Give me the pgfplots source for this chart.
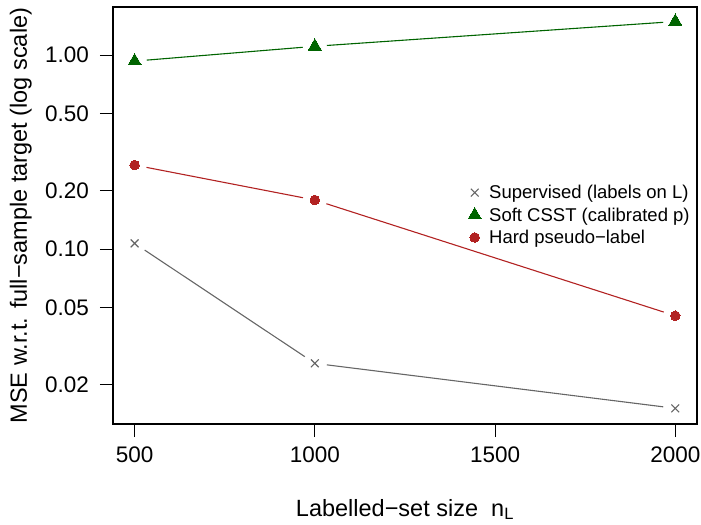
\documentclass[border=0pt]{standalone}
\usepackage{pgfplots}
\pgfplotsset{compat=1.18}
\usepackage{pgfplotstable}
\usepackage{fontspec}
\setmainfont{Liberation Sans}

\definecolor{supgray}{HTML}{666666}
\definecolor{softgreen}{HTML}{006400}
\definecolor{hardred}{HTML}{B22222}

\pgfplotstableread{
n    mse
500  0.107
1000 0.02575
2000 0.0151
}\supervised
\pgfplotstableread{
n    mse
500  0.931
1000 1.11
2000 1.49
}\softcsst
\pgfplotstableread{
n    mse
500  0.271
1000 0.179
2000 0.0453
}\hardpl

\begin{document}
\begin{tikzpicture}
\begin{axis}[
  scale only axis,
  width=584bp, height=417bp,
  ymode=log,
  xmin=440, xmax=2060,
  ymin=0.01253, ymax=1.768,
  xtick={500,1000,1500,2000},
  xticklabels={500,1000,1500,2000},
  ytick={0.02,0.05,0.1,0.2,0.5,1},
  yticklabels={0.02,0.05,0.10,0.20,0.50,1.00},
  tick pos=left,
  tick align=outside,
  major tick length=13bp,
  minor tick num=0,
  axis line style={line width=1.2bp},
  every tick/.style={black, line width=1.1bp},
  xticklabel style={font=\fontsize{22.5bp}{27bp}\selectfont, inner sep=0pt, yshift=-10bp},
  yticklabel style={font=\fontsize{22.5bp}{27bp}\selectfont, inner sep=0pt, xshift=-11bp},
  every axis label/.append style={font=\fontsize{23.5bp}{28bp}\selectfont},
  xlabel={Labelled−set size\ \ n\textsubscript{L}},
  ylabel={MSE w.r.t. full−sample target (log scale)},
  xlabel style={at={(axis description cs:0.5,-0.205)}, anchor=center},
  ylabel style={at={(axis description cs:-0.158,0.5)}, anchor=center},
  clip=false,
  legend cell align=left,
  legend style={draw=none, fill=none, font=\fontsize{18.5bp}{22bp}\selectfont,
    at={(axis description cs:0.608,0.578)}, anchor=north west,
    row sep=3.5bp, inner sep=0pt,
    /tikz/every odd column/.append style={column sep=6bp}},
]
% invisible frame to fix the picture size
\path (axis description cs:-0.1935,-0.24) rectangle (axis description cs:1.007,1.017);

% connecting lines, with gaps around the points (R type="b")
\addplot[supgray, line width=1.1bp, forget plot] table[x=n,y=mse]{\supervised};
\addplot[softgreen, line width=1.1bp, forget plot] table[x=n,y=mse]{\softcsst};
\addplot[hardred, line width=1.1bp, forget plot] table[x=n,y=mse]{\hardpl};
\addplot[only marks, mark=*, mark size=12bp, mark options={draw=white, fill=white}, forget plot] table[x=n,y=mse]{\supervised};
\addplot[only marks, mark=*, mark size=12bp, mark options={draw=white, fill=white}, forget plot] table[x=n,y=mse]{\softcsst};
\addplot[only marks, mark=*, mark size=12bp, mark options={draw=white, fill=white}, forget plot] table[x=n,y=mse]{\hardpl};

% points
\addplot[only marks, mark=x, mark size=5.5bp, supgray, mark options={line width=1.1bp}] table[x=n,y=mse]{\supervised};
\addlegendentry{Supervised (labels on L)}
\addplot[only marks, mark=triangle*, mark size=7.5bp, softgreen, mark options={draw=softgreen, fill=softgreen, line width=0pt}] table[x=n,y=mse]{\softcsst};
\addlegendentry{Soft CSST (calibrated p)}
\addplot[only marks, mark=*, mark size=4.8bp, hardred, mark options={draw=hardred, fill=hardred, line width=0pt}] table[x=n,y=mse]{\hardpl};
\addlegendentry{Hard pseudo−label}
\end{axis}
\end{tikzpicture}
\end{document}
